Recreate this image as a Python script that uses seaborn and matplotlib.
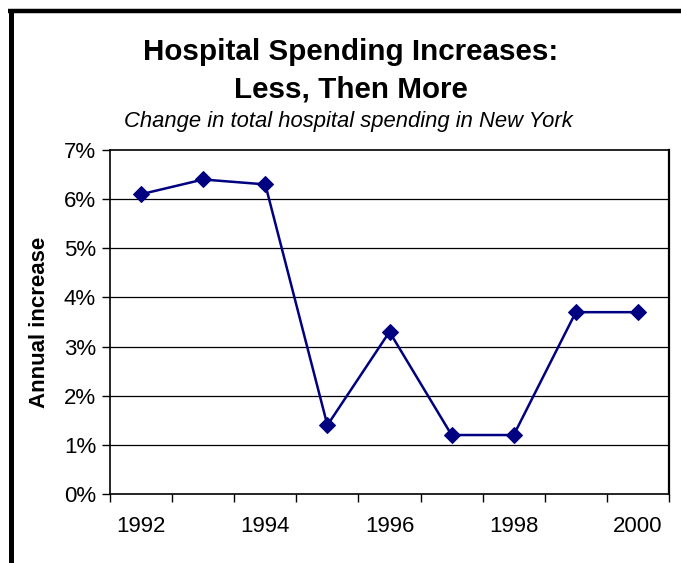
import numpy as np
import pandas as pd
import matplotlib
matplotlib.use("Agg")
import matplotlib.pyplot as plt
from matplotlib.lines import Line2D
from matplotlib.ticker import FixedLocator, FuncFormatter
import seaborn as sns

years = ["1992", "1993", "1994", "1995", "1996", "1997", "1998", "1999", "2000"]
increase = [6.1, 6.4, 6.3, 1.4, 3.3, 1.2, 1.2, 3.7, 3.7]
shown_year_labels = ["1992", "1994", "1996", "1998", "2000"]
y_ticks = [0, 1, 2, 3, 4, 5, 6, 7]

sns.set_theme(style="white")
plt.rcParams["font.family"] = ["Liberation Sans", "DejaVu Sans"]

W, H = 681, 563
fig = plt.figure(figsize=(W / 100, H / 100), dpi=100)
fig.patch.set_facecolor("white")

x0, x1, ytop, ybot = 110, 669, 150, 494
ax = fig.add_axes([x0 / W, 1 - ybot / H, (x1 - x0) / W, (ybot - ytop) / H])
ax.set_facecolor("white")

df = pd.DataFrame({"pos": np.arange(len(years)), "value": increase})
sns.lineplot(data=df, x="pos", y="value", ax=ax, color="#000080",
             linewidth=1.8, marker="D", markersize=8,
             markeredgecolor="#000080", markerfacecolor="#000080")

ax.set_xlim(-0.5, len(years) - 0.5)
ax.set_ylim(0, 7)
ax.yaxis.set_major_locator(FixedLocator(y_ticks))
ax.yaxis.set_major_formatter(FuncFormatter(lambda v, p: f"{int(round(v))}%"))
for v in y_ticks[1:-1]:
    ax.axhline(v, color="black", linewidth=0.9, zorder=0)

ax.set_xticks([years.index(y) for y in shown_year_labels])
ax.set_xticklabels(shown_year_labels)
ax.set_xticks(np.arange(-0.5, len(years)), minor=True)
ax.tick_params(axis="x", which="major", length=0, pad=16, labelsize=16, colors="black")
ax.tick_params(axis="x", which="minor", length=6, width=1, direction="out", color="black", bottom=True)
ax.tick_params(axis="y", which="major", length=6, width=1, direction="out", color="black",
               left=True, labelsize=16, pad=4, labelcolor="black")

for s in ax.spines.values():
    s.set_visible(True)
    s.set_color("black")
    s.set_linewidth(1.2)
ax.spines["right"].set_linewidth(1.6)

ax.set_xlabel("")
ax.set_ylabel("Annual increase", fontsize=16, fontweight="bold", color="black", labelpad=10)

cx = 351 / W
fig.text(cx, 1 - 52 / H, "Hospital Spending Increases:", ha="center", va="center",
         fontsize=21.3, fontweight="bold", color="black")
fig.text(cx, 1 - 90 / H, "Less, Then More", ha="center", va="center",
         fontsize=21.3, fontweight="bold", color="black")
fig.text(348 / W, 1 - 122 / H, "Change in total hospital spending in New York", ha="center",
         va="center", fontsize=15.8, style="italic", color="black")

# outer frame (left and top)
fig.add_artist(Line2D([10.8 / W, 10.8 / W], [0, 1 - 9 / H], transform=fig.transFigure,
                      color="black", linewidth=3.6, solid_capstyle="butt"))
fig.add_artist(Line2D([8.3 / W, 1], [1 - 11 / H, 1 - 11 / H], transform=fig.transFigure,
                      color="black", linewidth=3.2, solid_capstyle="butt"))

fig.savefig("out.png", dpi=100, facecolor="white")
